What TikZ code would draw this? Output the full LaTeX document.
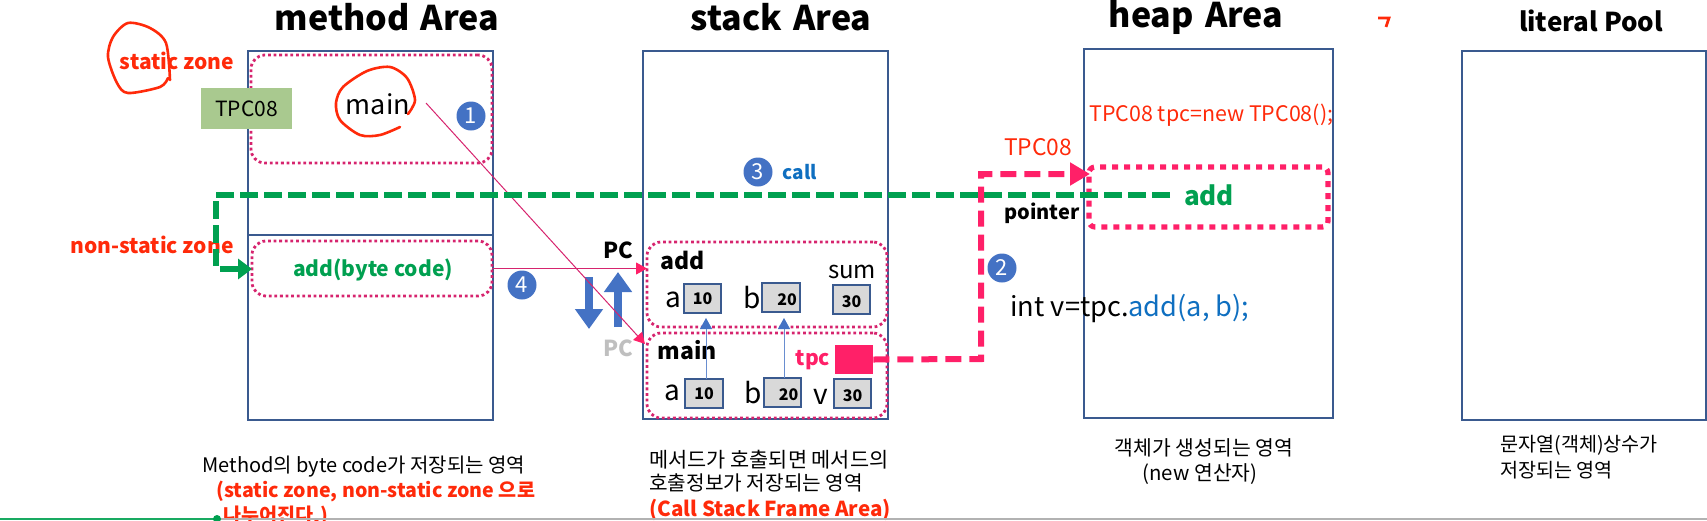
\documentclass[tikz,border=0pt]{standalone}
\usepackage{fontspec}
\setmainfont{Noto Sans CJK KR}
\usetikzlibrary{arrows.meta}
\definecolor{boxblue}{HTML}{3A5A8F}
\definecolor{dotpink}{HTML}{D6246E}
\definecolor{hotpink}{HTML}{FF2068}
\definecolor{zgreen}{HTML}{00A050}
\definecolor{zred}{HTML}{FF2A0A}
\definecolor{cblue}{HTML}{4472C4}
\definecolor{callblue}{HTML}{0F6FC0}
\definecolor{tgreen}{HTML}{A9C98F}
\newcommand{\fs}[1]{\fontsize{#1}{#1}\selectfont}
\newcommand{\bx}[6]{\node[#6,minimum width={((#4)-(#2))*0.5pt},minimum height={((#5)-(#3))*0.5pt}] (#1) at ({((#2)+(#4))/2},{((#3)+(#5))/2}) {};}
\tikzset{
  area/.style={draw=boxblue,line width=1.2pt,inner sep=0pt,outer sep=0pt},
  dotbox/.style={draw=dotpink,line width=1.4pt,dash pattern=on 1.4pt off 1.4pt,rounded corners=7pt,inner sep=0pt,outer sep=0pt},
  heapdot/.style={draw=hotpink,line width=2.6pt,dash pattern=on 3pt off 3pt,rounded corners=3pt,inner sep=0pt,outer sep=0pt},
  cell/.style={draw=boxblue,fill=black!15,line width=1pt,inner sep=0pt,outer sep=0pt},
  title/.style={font=\fs{17}\bfseries,inner sep=0pt},
  lbl/.style={inner sep=0pt,font=\fs{14}},
  boldlbl/.style={inner sep=0pt,font=\fs{10.5}\bfseries},
  val/.style={inner sep=0pt,font=\fs{8}\bfseries},
  num/.style={circle,fill=cblue,text=white,minimum size=14.5pt,inner sep=0pt,font=\fs{11}},
  desc/.style={inner sep=0pt,font=\fs{10},anchor=west},
  thinpink/.style={draw=dotpink,line width=0.5pt,-{Triangle[length=5.5pt,width=6pt,color=hotpink]}},
  thinblue/.style={draw=cblue!80,line width=0.5pt,-{Triangle[length=5.5pt,width=6pt,color=cblue]}},
  bigblue/.style={draw=cblue,line width=4.4pt,-{Triangle[length=10pt,width=13.5pt]}},
  scribble/.style={draw=zred,line width=1.3pt,smooth,line cap=round}
}
\begin{document}
\begin{tikzpicture}[x=0.5pt,y=-0.5pt]
\useasboundingbox (0,0) rectangle (1707,520);
% areas
\bx{method}{248}{51}{493}{420}{area}
\bx{stack}{643}{51}{888}{419}{area}
\bx{heap}{1084}{49}{1333}{418}{area}
\bx{literal}{1462}{51}{1706}{420}{area}
\coordinate (divL) at (248,235); \coordinate (divR) at (493,235);
\draw[boxblue,line width=1.2pt] (divL) -- (divR);
% dotted frames
\bx{fstatic}{251}{55}{492}{163}{dotbox}
\bx{fbyte}{252}{241}{492}{296}{dotbox}
\bx{fadd}{647}{242}{887}{327}{dotbox}
\bx{fmain}{647}{333}{887}{418}{dotbox}
\bx{fheap}{1089}{167}{1328}{227}{heapdot}
% titles
\node[title] (t1) at (387,17) {method\,\,Area};
\node[title] (t2) at (781,17) {stack\,\,Area};
\node[title] (t3) at (1196,17) {heap\,\,Area};
\node[inner sep=0pt,font=\fs{13}\bfseries] (t4) at (1591,21) {literal Pool};
% method area content
\node[boldlbl,text=zred] (zs) at (177,61) {static zone};
\node[boldlbl,text=zred] (zn) at (152,245) {non-static zone};
\node[fill=tgreen,minimum width=45.5pt,minimum height=20.5pt,inner sep=0pt,font=\fs{10.5}] (tpcbox) at (246.5,108.5) {TPC08};
\node[inner sep=0pt,font=\fs{13.5}] (mainlbl) at (378,104) {main};
\node[boldlbl] [text=zgreen] (bytelbl) at (373,270) {add(byte code)};
\draw[scribble] plot coordinates {(170,80) (166,43) (150,28) (128,23) (113,37) (108,57) (117,83) (128,93) (160,87) (168,78)};
\draw[scribble] plot coordinates {(408,114) (415,100) (407,78) (390,67) (367,71) (343,87) (336,103) (340,120) (360,135) (380,135) (400,127)};
\coordinate (m1) at (1378,18); \coordinate (m2) at (1389,18); \coordinate (m3) at (1386,27);
\draw[draw=zred,line width=1.4pt] (m1) -- (m2) -- (m3);
% stack frames
\node[inner sep=0pt,font=\fs{11.5}\bfseries] (addl) at (683,260) {add};
\node[inner sep=0pt,font=\fs{11.5}\bfseries] (mainl) at (687,350) {main};
\node[lbl] at (673,300) (a1l) {a};
\node[lbl] at (752,298) (b1l) {b};
\node[lbl,font=\fs{12}] at (852,272) (suml) {sum};
\node[lbl] at (672,393) (a2l) {a};
\node[lbl] at (753,393) (b2l) {b};
\node[lbl] at (821,397) (vl) {v};
\bx{ca1}{684}{284}{721}{313}{cell}
\bx{cb1}{762}{283}{800}{312}{cell}
\bx{cs1}{833}{285}{870}{314}{cell}
\bx{ca2}{685}{379}{723}{408}{cell}
\bx{cb2}{764}{378}{801}{407}{cell}
\bx{cv2}{834}{379}{871}{408}{cell}
\node[val] at (ca1) (va1) {10};
\node[val] at ([xshift=3pt,yshift=-1pt]cb1) (vb1) {20};
\node[val] at ([yshift=-1pt]cs1) (vs1) {30};
\node[val] at (ca2) (va2) {10};
\node[val] at ([xshift=3pt,yshift=-1pt]cb2) (vb2) {20};
\node[val] at ([yshift=-1pt]cv2) (vv2) {30};
\node[inner sep=0pt,fill=hotpink,minimum width=19pt,minimum height=14.5pt] (tpcsq) at (854,359.5) {};
\node[boldlbl,text=hotpink] (tpcl) at (813,360) {tpc};
\node[boldlbl,font=\fs{11}\bfseries] (pc1) at (618,250) {PC};
\node[boldlbl,font=\fs{11}\bfseries,text=black!25] (pc2) at (618,348) {PC};
% blue arrows
\coordinate (d1) at (589,277); \coordinate (d2) at (589,329);
\coordinate (u1) at (618,327); \coordinate (u2) at (618,272);
\draw[bigblue] (d1) -- (d2);
\draw[bigblue] (u1) -- (u2);
\draw[thinblue] (ca2.north -| 706,0) -- (706,318);
\draw[thinblue] (cb2.north -| 784,0) -- (784,318);
% heap content
\node[inner sep=0pt,font=\fs{10.7},text=zred,anchor=west] (newl) at (1089,115) {TPC08 tpc=new TPC08();};
\node[inner sep=0pt,font=\fs{11.4},text=zred] (tpcred) at (1038,147) {TPC08};
\node[inner sep=0pt,font=\fs{10}\bfseries] (ptr) at (1042,213) {pointer};
\node[inner sep=0pt,font=\fs{13}\bfseries,text=zgreen] (addh) at (1209,195) {add};
\node[inner sep=0pt,font=\fs{13.6},anchor=west] (intl) at (1010,308) {int v=tpc.\textcolor{callblue}{add(a, b);}};
% numbers
\node[num] (n1) at (471,116) {1};
\node[num] (n2) at (1002,268) {2};
\node[num] (n3) at (758,172) {3};
\node[num] (n4) at (522,285) {4};
\node[inner sep=0pt,font=\fs{9.5}\bfseries,text=callblue] (calll) at (800,172) {call};
% connectors
\coordinate (mainout) at (426,103);
\coordinate (mainin) at (645,344);
\draw[thinpink] (mainout) -- (mainin);
\draw[thinpink] (fbyte.east) -- (fbyte.east -| fadd.west);
\coordinate (gs) at (1170,195); \coordinate (gl) at (216,195); \coordinate (gd) at (216,266);
\draw[zgreen,line width=3pt,dash pattern=on 9pt off 3pt] (gs) -- (gl) -- (gd);
\coordinate (ga) at (220,269);
\draw[zgreen,line width=3pt,-{Triangle[length=7pt,width=10pt]}] (ga) -- (ga -| fbyte.west);
\coordinate (pc) at (981,359); \coordinate (pu) at (981,174); \coordinate (pe) at (1090,174);
\draw[hotpink,line width=3pt,dash pattern=on 8pt off 4pt,-{Triangle[length=10pt,width=11pt]}] (tpcsq.east) -- (pc) -- (pu) -- (pe);
% descriptions
\node[desc] (d1a) at (202,467) {Method의 byte code가 저장되는 영역};
\node[desc,font=\fs{9.8}\bfseries,text=zred] (d1b) at (216,491) {(static zone, non-static zone 으로};
\node[desc,font=\fs{9.8}\bfseries,text=zred] (d1c) at (223,516) {나누어진다.)};
\node[desc,font=\fs{10.4}] (d2a) at (649,460) {메서드가 호출되면 메서드의};
\node[desc,font=\fs{10.1}] (d2b) at (649,483) {호출정보가 저장되는 영역};
\node[desc,font=\fs{10.3}\bfseries,text=zred] (d2c) at (649,510) {(Call Stack Frame Area)};
\node[inner sep=0pt,font=\fs{10.2}] (d3a) at (1204,448) {객체가 생성되는 영역};
\node[inner sep=0pt,font=\fs{10.2}] (d3b) at (1200,474) {(new 연산자)};
\node[desc,font=\fs{9.8}] (d4a) at (1500,445) {문자열(객체)상수가};
\node[desc,font=\fs{9.8}] (d4b) at (1500,470) {저장되는 영역};
% bottom edge
\coordinate (bl) at (0,519); \coordinate (bm) at (217,519); \coordinate (br) at (1707,519);
\fill[white] (0,519) rectangle (1707,520);
\draw[black!30,line width=0.6pt] (bm) -- (br);
\draw[zgreen!90,line width=0.6pt] (bl) -- (bm);
\fill[zgreen] (bm) circle (2pt);
\end{tikzpicture}
\end{document}
